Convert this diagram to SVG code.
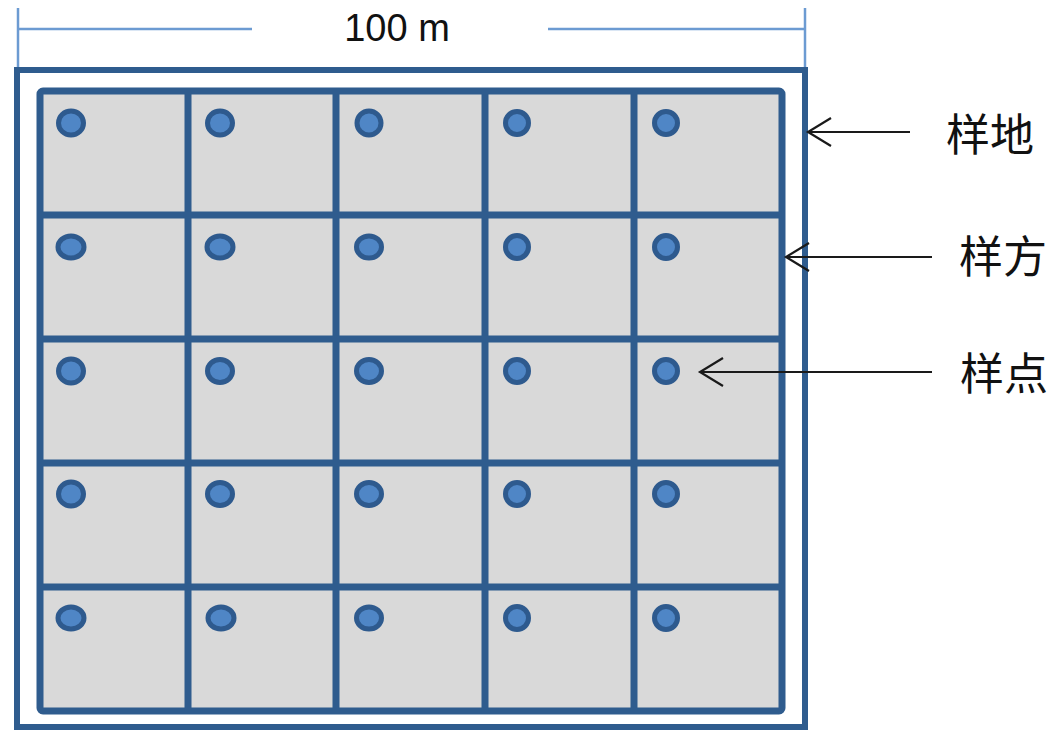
<svg xmlns="http://www.w3.org/2000/svg" width="1054" height="733" viewBox="0 0 1054 733">
<style>
.dim{stroke:#6C9BD2;stroke-width:2.5;fill:none}
.frame{fill:#FFFFFF;stroke:#2F5C8E;stroke-width:6}
.grid{fill:#D9D9D9;stroke:#2F5C8E;stroke-width:7}
.div{stroke:#2F5C8E;stroke-width:7;fill:none}
.dot{fill:#4F86C6;stroke:#2E5A8E;stroke-width:5}
.arr{stroke:#1A1A1A;stroke-width:2.2;fill:none}
.lbl{font-family:"Noto Sans CJK SC","Noto Sans",sans-serif;font-size:44px;fill:#111}
.num{font-family:"Liberation Sans",Arial,sans-serif;font-size:38px;fill:#111}
</style>
<defs>
<marker id="ah" markerWidth="26" markerHeight="32" refX="24" refY="16" orient="auto" markerUnits="userSpaceOnUse" overflow="visible">
<path d="M1,2 L24,16 L1,30" stroke="#1A1A1A" stroke-width="2.2" fill="none"/>
</marker>
</defs>
<g id="dimension">
<line class="dim" x1="18" y1="8" x2="18" y2="68"/>
<line class="dim" x1="805" y1="8" x2="805" y2="68"/>
<line class="dim" x1="18" y1="29" x2="252" y2="29"/>
<line class="dim" x1="548" y1="29" x2="805" y2="29"/>
<text class="num" x="397" y="41" text-anchor="middle">100 m</text>
</g>
<g id="plot">
<rect class="frame" x="17" y="70" width="788" height="657"/>
</g>
<g id="quadrats">
<rect class="grid" x="40" y="91" width="742" height="620" rx="3"/>
<line class="div" x1="188" y1="91" x2="188" y2="711"/>
<line class="div" x1="336" y1="91" x2="336" y2="711"/>
<line class="div" x1="485" y1="91" x2="485" y2="711"/>
<line class="div" x1="634" y1="91" x2="634" y2="711"/>
<line class="div" x1="40" y1="215" x2="782" y2="215"/>
<line class="div" x1="40" y1="339" x2="782" y2="339"/>
<line class="div" x1="40" y1="463" x2="782" y2="463"/>
<line class="div" x1="40" y1="587" x2="782" y2="587"/>
</g>
<g id="points">
<ellipse class="dot" cx="71" cy="123" rx="12.5" ry="12"/>
<ellipse class="dot" cx="220" cy="123" rx="12.5" ry="12"/>
<ellipse class="dot" cx="369" cy="123" rx="12" ry="12"/>
<ellipse class="dot" cx="517" cy="123" rx="11.5" ry="11.5"/>
<ellipse class="dot" cx="666" cy="123" rx="11.5" ry="11.5"/>
<ellipse class="dot" cx="71" cy="247" rx="13" ry="11"/>
<ellipse class="dot" cx="220" cy="247" rx="13" ry="11"/>
<ellipse class="dot" cx="369" cy="247" rx="12.5" ry="11"/>
<ellipse class="dot" cx="517" cy="247" rx="11.5" ry="11.5"/>
<ellipse class="dot" cx="666" cy="247" rx="11.5" ry="11.5"/>
<ellipse class="dot" cx="71" cy="371" rx="12.5" ry="12"/>
<ellipse class="dot" cx="220" cy="371" rx="12.5" ry="11.5"/>
<ellipse class="dot" cx="369" cy="371" rx="12.5" ry="11.5"/>
<ellipse class="dot" cx="517" cy="371" rx="11.5" ry="11.5"/>
<ellipse class="dot" cx="666" cy="371" rx="11.5" ry="11.5"/>
<ellipse class="dot" cx="71" cy="494" rx="12.5" ry="12"/>
<ellipse class="dot" cx="220" cy="494" rx="12.5" ry="11.5"/>
<ellipse class="dot" cx="369" cy="494" rx="12.5" ry="11.5"/>
<ellipse class="dot" cx="517" cy="494" rx="11.5" ry="11.5"/>
<ellipse class="dot" cx="666" cy="494" rx="11.5" ry="11.5"/>
<ellipse class="dot" cx="71" cy="618" rx="13" ry="11"/>
<ellipse class="dot" cx="221" cy="618" rx="13" ry="11"/>
<ellipse class="dot" cx="369" cy="618" rx="12.5" ry="11"/>
<ellipse class="dot" cx="517" cy="618" rx="11.5" ry="11.5"/>
<ellipse class="dot" cx="666" cy="618" rx="11.5" ry="11.5"/>
</g>
<g id="label-plot"><text class="lbl" x="946" y="151">样地</text></g>
<g id="label-quadrat"><text class="lbl" x="959" y="273">样方</text></g>
<g id="label-point"><text class="lbl" x="960" y="390">样点</text></g>
<g id="connectors">
<line class="arr" x1="910" y1="132" x2="808" y2="132" marker-end="url(#ah)"/>
<line class="arr" x1="932" y1="257" x2="786" y2="257" marker-end="url(#ah)"/>
<line class="arr" x1="932" y1="372" x2="700" y2="372" marker-end="url(#ah)"/>
</g>
</svg>
